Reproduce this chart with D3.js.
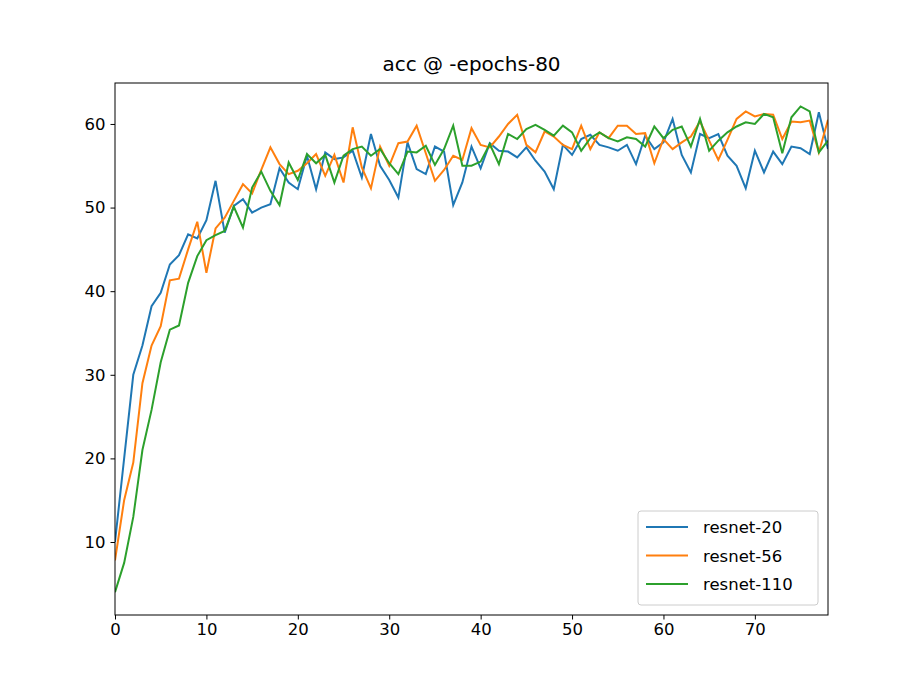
<!DOCTYPE html>
<html>
<head>
<meta charset="utf-8">
<script src="https://d3js.org/d3.v7.min.js"></script>
<style>body{margin:0;background:#fff}text{font-family:"DejaVu Sans",sans-serif}</style>
</head>
<body>
<script>
var resnet20 = [10,20,30,33.5,38.2,39.8,43.2,44.3,46.8,46.3,48.5,53.2,47,50.2,51,49.4,50,50.4,54.7,53,52.2,56.2,52.2,56.6,55.8,56,56.8,53.6,58.8,55,53.3,51.2,57.8,54.6,54,57.3,56.7,50.3,53,57.3,54.7,57.7,56.8,56.7,56,57.2,55.6,54.3,52.2,57.5,56.3,58.2,58.7,57.5,57.2,56.8,57.5,55.2,58.6,57,57.8,60.6,56.3,54.2,58.8,58.3,58.8,56.2,55,52.3,56.8,54.2,56.7,55.2,57.3,57.1,56.4,61.4,57];
var resnet56 = [7.8,15,19.5,29,33.5,35.8,41.3,41.5,45,48.3,42.2,47.5,48.8,50.8,52.8,51.7,54.5,57.2,55.2,54,54.4,55.3,56.4,53.8,56.3,53,59.6,54.8,52.3,57.3,55,57.7,57.9,59.8,56.5,53.2,54.5,56.2,55.7,59.5,57.5,57.2,58.5,60,61.1,57.5,56.6,59.1,58.5,57.5,57,59.8,57,59,58.3,59.8,59.8,58.8,58.9,55.3,58.2,57,57.8,58.5,60.3,58,55.7,58.1,60.6,61.5,60.9,61.2,61.1,58.2,60.3,60.2,60.4,56.6,60.5];
var resnet110 = [4,7.5,13,21,25.8,31.5,35.4,35.9,41,44.2,46.1,46.7,47.2,50.1,47.6,52.4,54.3,52,50.3,55.4,53.3,56.4,55.3,56.3,53,56.2,57,57.3,56.2,57,55.3,54,56.7,56.6,57.4,55.1,57,59.8,55,55,55.5,57.6,55.2,58.8,58.2,59.4,59.9,59.3,58.6,59.8,59,56.8,58.3,59,58.3,57.9,58.4,58.2,57.3,59.7,58.3,59.3,59.7,57.3,60.6,56.8,58,59,59.7,60.2,60,61.2,60.8,56.5,60.8,62.1,61.5,56.6,58];
var names = ["resnet-20","resnet-56","resnet-110"];
var colors = ["#1f77b4","#ff7f0e","#2ca02c"];
var xTicks = [0,10,20,30,40,50,60,70];
var yTicks = [10,20,30,40,50,60];

var L=115,R=828,T=83,B=615;
var svg=d3.select("body").append("svg").attr("width",921).attr("height",691);
var x=d3.scaleLinear().domain([0,78]).range([L,R]);
var y=d3.scaleLinear().domain([1.27,64.9]).range([B,T]);
svg.append("clipPath").attr("id","c").append("rect").attr("x",L).attr("y",T).attr("width",R-L).attr("height",B-T);
var line=d3.line().x(function(d,i){return x(i);}).y(function(d){return y(d);});
[resnet20,resnet56,resnet110].forEach(function(s,k){
  svg.append("path").attr("d",line(s)).attr("fill","none").attr("stroke",colors[k]).attr("stroke-width",2).attr("clip-path","url(#c)");
});
svg.append("g").attr("transform","translate(0,"+B+")").call(d3.axisBottom(x).tickValues(xTicks).tickSize(4.5).tickPadding(4)).call(function(g){g.select(".domain").remove();g.selectAll("text").attr("font-size",16.5).attr("fill","#000");});
svg.append("g").attr("transform","translate("+L+",0)").call(d3.axisLeft(y).tickValues(yTicks).tickSize(4.5).tickPadding(5)).call(function(g){g.select(".domain").remove();g.selectAll("text").attr("font-size",16.5).attr("fill","#000");});
svg.append("rect").attr("x",L).attr("y",T).attr("width",R-L).attr("height",B-T).attr("fill","none").attr("stroke","#000").attr("stroke-width",1);
svg.append("text").attr("x",(L+R)/2).attr("y",71).attr("text-anchor","middle").attr("font-size",20).text("acc @ -epochs-80");
var lg=svg.append("g");
lg.append("rect").attr("x",638).attr("y",511).attr("width",180).attr("height",94).attr("rx",3).attr("fill","#fff").attr("fill-opacity",0.8).attr("stroke","#ccc");
names.forEach(function(n,i){
  var yy=527+i*28.5;
  lg.append("line").attr("x1",646).attr("x2",688).attr("y1",yy).attr("y2",yy).attr("stroke",colors[i]).attr("stroke-width",2);
  lg.append("text").attr("x",703).attr("y",yy+6).attr("font-size",16.5).text(n);
});
</script>
</body>
</html>
